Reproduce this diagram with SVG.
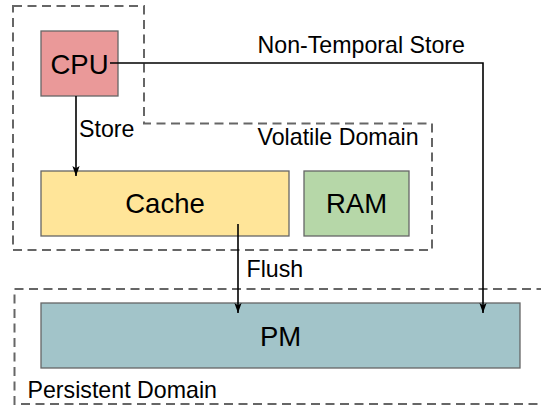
<svg xmlns="http://www.w3.org/2000/svg" width="541" height="410" viewBox="0 0 541 410">
  <style>
    .domain { fill: none; stroke: #666666; stroke-width: 2; stroke-dasharray: 9 5.5; }
    .box { stroke: #666666; stroke-width: 1.3; }
    .big { font-family: "Liberation Sans", Arial, sans-serif; font-size: 27.5px; fill: #000; text-anchor: middle; }
    .lbl { font-family: "Liberation Sans", Arial, sans-serif; font-size: 23.2px; fill: #000; }
    .edge { fill: none; stroke: #000; stroke-width: 1.6; }
  </style>
  <defs>
    <marker id="arrow" viewBox="0 0 10 8" refX="10" refY="4" markerWidth="10" markerHeight="8" markerUnits="userSpaceOnUse" orient="auto">
      <path d="M0,0.4 L10,4 L0,7.6 L2.2,4 Z" fill="#000"/>
    </marker>
  </defs>

  <rect width="541" height="410" fill="#ffffff"/>

  <!-- domain outlines -->
  <g id="volatile-domain">
    <path class="domain" d="M13,6 H144 V123.5 H432 V250 H13 Z"/>
    <text class="lbl" x="257.5" y="144.5">Volatile Domain</text>
  </g>
  <g id="persistent-domain">
    <path class="domain" d="M560,289 H14.5 V404 H560"/>
    <text class="lbl" x="27.5" y="398">Persistent Domain</text>
  </g>

  <!-- nodes -->
  <g id="cpu">
    <rect class="box" x="41" y="31" width="77" height="65" fill="#ea9999"/>
    <text class="big" x="79.5" y="74">CPU</text>
  </g>
  <g id="cache">
    <rect class="box" x="41" y="171" width="248" height="65" fill="#ffe599"/>
    <text class="big" x="165" y="212.5">Cache</text>
  </g>
  <g id="ram">
    <rect class="box" x="304" y="171" width="105" height="65" fill="#b6d7a8"/>
    <text class="big" x="356.5" y="212.5">RAM</text>
  </g>
  <g id="pm">
    <rect class="box" x="41" y="303" width="479" height="65" fill="#a2c4c9"/>
    <text class="big" x="280.5" y="345.5">PM</text>
  </g>

  <!-- connectors -->
  <g id="connectors">
    <path class="edge" d="M76,96 V176" marker-end="url(#arrow)"/>
    <text class="lbl" x="79" y="136.5">Store</text>
    <path class="edge" d="M238,224 V313" marker-end="url(#arrow)"/>
    <text class="lbl" x="246.5" y="276.5">Flush</text>
    <path class="edge" d="M110,63 H483 V313" marker-end="url(#arrow)"/>
    <text class="lbl" x="257.5" y="52.5">Non-Temporal Store</text>
  </g>
</svg>
